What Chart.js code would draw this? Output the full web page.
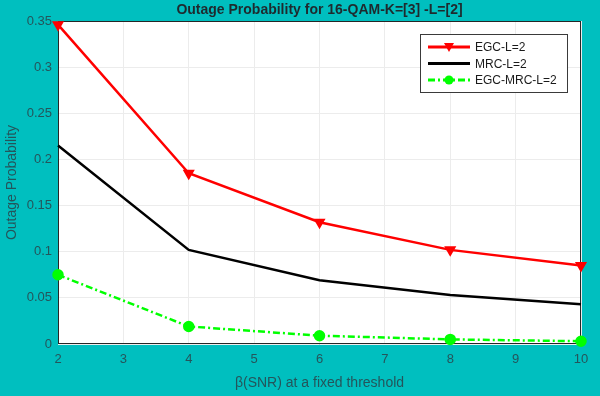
<!DOCTYPE html>
<html>
<head>
<meta charset="utf-8">
<script src="https://cdn.jsdelivr.net/npm/chart.js@4"></script>
<style>
    html, body { margin: 0; padding: 0; background: #00bfbf; }
    #wrap { width: 600px; height: 396px; }
</style>
</head>
<body>
<div id="wrap"><canvas id="outageChart" width="600" height="396"></canvas></div>
<script>
// values
const snr = [2, 4, 6, 8, 10];
const egc = [0.346, 0.185, 0.132, 0.102, 0.085];
const mrc = [0.215, 0.102, 0.069, 0.053, 0.043];
const egcMrc = [0.075, 0.019, 0.009, 0.005, 0.003];
const xTicks = [2, 3, 4, 5, 6, 7, 8, 9, 10];
const yTicks = [0, 0.05, 0.1, 0.15, 0.2, 0.25, 0.3, 0.35];

const labelColor = '#24555b';

function toPoints(ys) {
    return snr.map((x, i) => ({ x: x, y: ys[i] }));
}

// white plot area, box and title drawn around the chart area
const plotFrame = {
    id: 'plotFrame',
    beforeDraw(chart) {
        const { ctx, chartArea: a } = chart;
        ctx.save();
        ctx.fillStyle = '#ffffff';
        ctx.fillRect(a.left, a.top, a.right - a.left, a.bottom - a.top);
        ctx.restore();
    },
    beforeDatasetsDraw(chart) {
        const { ctx, chartArea: a } = chart;
        ctx.save();
        ctx.strokeStyle = '#262626';
        ctx.lineWidth = 1;
        ctx.strokeRect(a.left + 0.5, a.top + 0.5, a.right - a.left - 1, a.bottom - a.top - 1);
        ctx.fillStyle = '#1e2a2e';
        ctx.font = 'bold 14px "Liberation Sans", Arial, sans-serif';
        ctx.textAlign = 'center';
        ctx.textBaseline = 'middle';
        ctx.fillText('Outage Probability for 16-QAM-K=[3] -L=[2]', (a.left + a.right) / 2, 10);
        ctx.restore();
    }
};

// legend box in the upper right corner of the plot
const boxLegend = {
    id: 'boxLegend',
    afterDraw(chart) {
        const { ctx } = chart;
        const x0 = 420, y0 = 34, w = 147, h = 58;
        ctx.save();
        ctx.fillStyle = '#ffffff';
        ctx.fillRect(x0, y0, w, h);
        ctx.strokeStyle = '#3a3a3a';
        ctx.lineWidth = 1;
        ctx.strokeRect(x0 + 0.5, y0 + 0.5, w, h);
        chart.data.datasets.forEach((ds, i) => {
            const y = y0 + 13 + i * 16.5;
            ctx.strokeStyle = ds.borderColor;
            ctx.lineWidth = 3;
            ctx.setLineDash(ds.borderDash || []);
            ctx.beginPath();
            ctx.moveTo(428, y);
            ctx.lineTo(470, y);
            ctx.stroke();
            ctx.setLineDash([]);
            if (ds.pointRadius > 0) {
                ctx.fillStyle = ds.pointBackgroundColor;
                ctx.beginPath();
                if (ds.pointStyle === 'circle') {
                    ctx.arc(449, y, 4.5, 0, Math.PI * 2);
                } else {
                    ctx.moveTo(444, y - 4);
                    ctx.lineTo(454, y - 4);
                    ctx.lineTo(449, y + 5);
                    ctx.closePath();
                }
                ctx.fill();
            }
            ctx.fillStyle = '#1a1a1a';
            ctx.font = '12px "Liberation Sans", Arial, sans-serif';
            ctx.textAlign = 'left';
            ctx.textBaseline = 'middle';
            ctx.fillText(ds.label, 475, y + 1);
        });
        ctx.restore();
    }
};

new Chart(document.getElementById('outageChart').getContext('2d'), {
    type: 'line',
    data: {
        datasets: [
            {
                label: 'EGC-L=2',
                data: toPoints(egc),
                borderColor: '#ff0000',
                backgroundColor: '#ff0000',
                pointBackgroundColor: '#ff0000',
                pointBorderColor: '#ff0000',
                borderWidth: 2.5,
                pointStyle: 'triangle',
                rotation: 180,
                pointRadius: 4.5,
                clip: false,
                tension: 0
            },
            {
                label: 'MRC-L=2',
                data: toPoints(mrc),
                borderColor: '#000000',
                backgroundColor: '#000000',
                borderWidth: 2.5,
                pointRadius: 0,
                clip: false,
                tension: 0
            },
            {
                label: 'EGC-MRC-L=2',
                data: toPoints(egcMrc),
                borderColor: '#00ff00',
                backgroundColor: '#00ff00',
                pointBackgroundColor: '#00ff00',
                pointBorderColor: '#00ff00',
                borderWidth: 2.5,
                borderDash: [7, 3, 2, 3],
                pointStyle: 'circle',
                pointRadius: 4.5,
                clip: false,
                tension: 0
            }
        ]
    },
    options: {
        responsive: false,
        animation: false,
        layout: { padding: { top: 21, right: 19 } },
        plugins: {
            legend: { display: false },
            title: { display: false },
            tooltip: { enabled: false }
        },
        scales: {
            x: {
                type: 'linear',
                min: 2,
                max: 10,
                afterBuildTicks: (axis) => { axis.ticks = xTicks.map(v => ({ value: v })); },
                afterFit: (axis) => { axis.height = 52; },
                grid: { color: '#ececec', drawTicks: false },
                border: { display: false },
                ticks: {
                    color: labelColor,
                    font: { size: 13, family: '"Liberation Sans", Arial, sans-serif' },
                    padding: 8,
                    maxRotation: 0
                },
                title: {
                    display: true,
                    text: 'β(SNR) at a fixed threshold',
                    color: labelColor,
                    font: { size: 14, family: '"Liberation Sans", Arial, sans-serif' },
                    padding: { top: 4 }
                }
            },
            y: {
                min: 0,
                max: 0.35,
                afterBuildTicks: (axis) => { axis.ticks = yTicks.map(v => ({ value: v })); },
                afterFit: (axis) => { axis.width = 58; },
                grid: { color: '#ececec', drawTicks: false },
                border: { display: false },
                ticks: {
                    color: labelColor,
                    font: { size: 13, family: '"Liberation Sans", Arial, sans-serif' },
                    padding: 6,
                    callback: (v) => String(Math.round(v * 100) / 100)
                },
                title: {
                    display: true,
                    text: 'Outage Probability',
                    color: labelColor,
                    font: { size: 14, family: '"Liberation Sans", Arial, sans-serif' },
                    padding: { bottom: 2 }
                }
            }
        }
    },
    plugins: [plotFrame, boxLegend]
});
</script>
</body>
</html>
